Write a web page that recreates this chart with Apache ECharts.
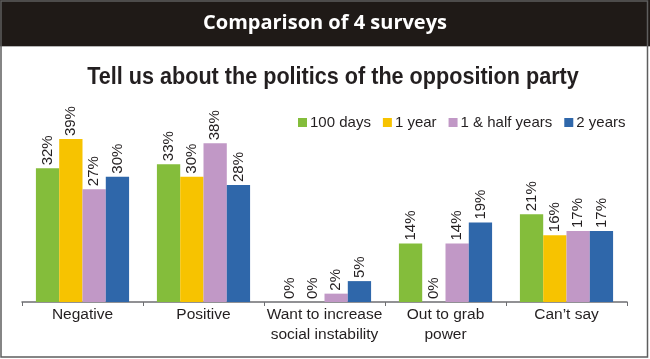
<!DOCTYPE html>
<html>
<head>
<meta charset="utf-8">
<script src="https://cdn.jsdelivr.net/npm/echarts@6/dist/echarts.min.js"></script>
<style>
html,body{margin:0;padding:0;background:#fff;}
#c{width:650px;height:359px;}
</style>
</head>
<body>
<div id="c"></div>
<script>
var categories = ['Negative', 'Positive', 'Want to increase\nsocial instability', 'Out to grab\npower', 'Can\u2019t say'];
var seriesNames = ['100 days', '1 year', '1 & half years', '2 years'];
var days100 = [32, 33, 0, 14, 21];
var year1 = [39, 30, 0, 0, 16];
var yearHalf = [27, 38, 2, 14, 17];
var years2 = [30, 28, 5, 19, 17];
var colors = ['#84bd3b', '#f7c300', '#c198c6', '#2f67aa'];
var headerText = 'Comparison of 4 surveys';
var titleText = 'Tell us about the politics of the opposition party';

var sans = "'Liberation Sans', Arial, Helvetica, sans-serif";
var allData = [days100, year1, yearHalf, years2];

var chart = echarts.init(document.getElementById('c'), null, {renderer: 'canvas'});
var series = seriesNames.map(function (name, i) {
  return {
    name: name,
    type: 'bar',
    data: allData[i],
    barGap: '0%',
    barCategoryGap: '23%',
    itemStyle: {color: colors[i]},
    label: {
      show: true,
      position: 'top',
      distance: 3,
      rotate: 90,
      align: 'left',
      verticalAlign: 'middle',
      formatter: '{c}%',
      fontFamily: sans,
      fontSize: 15,
      color: '#231f20'
    }
  };
});

chart.setOption({
  animation: false,
  backgroundColor: '#ffffff',
  graphic: [
    {type: 'rect', shape: {x: 0, y: 0, width: 650, height: 46}, style: {fill: '#1f1a17'}, z: 0},
    {type: 'line', shape: {x1: 0, y1: 46.5, x2: 650, y2: 46.5}, style: {stroke: '#b5b5b5', lineWidth: 1}},
    {type: 'text', x: 325, y: 23, style: {text: headerText, fill: '#ffffff', font: "bold 20px 'Open Sans', sans-serif", textAlign: 'center', textVerticalAlign: 'middle'}},
    {type: 'text', x: 333, y: 77, scaleX: 0.9, style: {text: titleText, fill: '#231f20', font: "bold 24px 'Liberation Sans', Arial, sans-serif", textAlign: 'center', textVerticalAlign: 'middle'}},
    {type: 'rect', shape: {x: 1, y: 1, width: 646.5, height: 356}, style: {fill: 'none', stroke: '#5e5e5e', lineWidth: 1.5}, z: 100}
  ],
  legend: {
    data: seriesNames,
    left: 293,
    top: 110,
    icon: 'rect',
    itemWidth: 9,
    itemHeight: 9,
    itemGap: 12,
    textStyle: {fontFamily: sans, fontSize: 15, color: '#231f20', padding: [0, 0, 0, -2]}
  },
  grid: {left: 22, right: 23, top: 114, bottom: 57, containLabel: false},
  xAxis: {
    type: 'category',
    data: categories,
    axisLine: {lineStyle: {color: '#6d6e71', width: 1.5}},
    axisTick: {show: true, length: 4, lineStyle: {color: '#6d6e71'}},
    axisLabel: {fontFamily: sans, fontSize: 15.5, color: '#231f20', lineHeight: 20, margin: 3, interval: 0}
  },
  yAxis: {
    type: 'value',
    min: 0,
    max: 45,
    show: false,
    splitLine: {show: false}
  },
  series: series
});
</script>
</body>
</html>
